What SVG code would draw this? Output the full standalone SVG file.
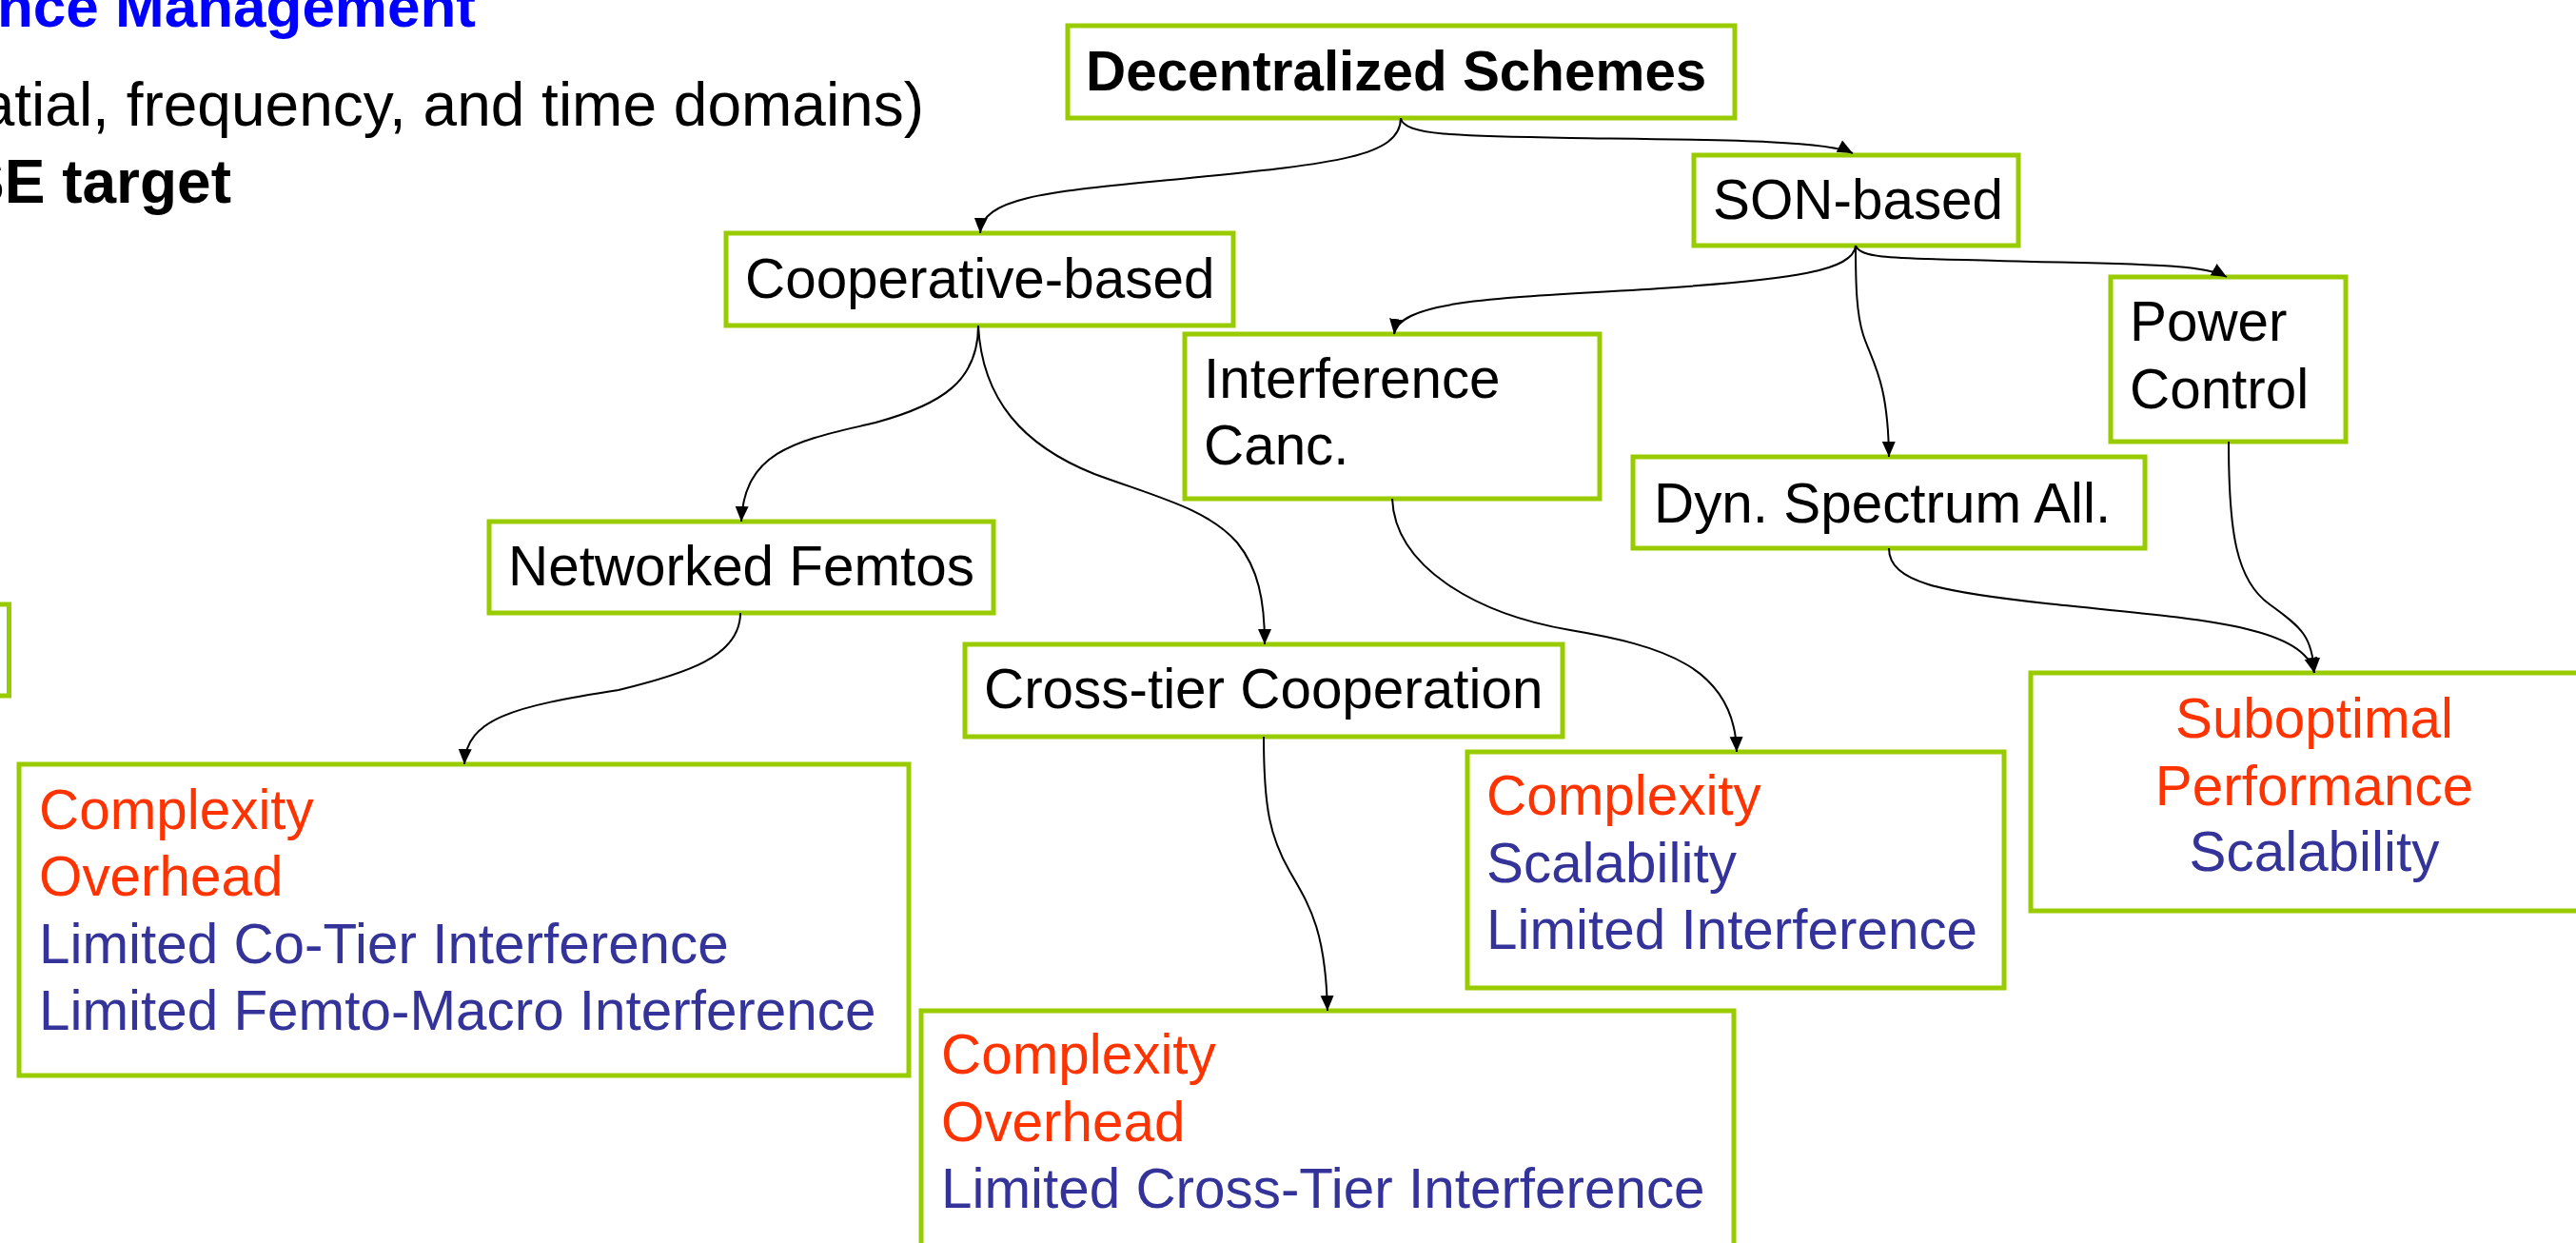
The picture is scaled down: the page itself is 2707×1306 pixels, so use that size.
<svg xmlns="http://www.w3.org/2000/svg" width="2707" height="1306" viewBox="0 0 2707 1306">
<defs>
<style>
text { font-family: "Liberation Sans", Arial, sans-serif; font-size: 58.4px; fill: #000; }
.b { font-weight: bold; }
.r { fill: #FF3300; }
.u { fill: #333399; }
.c { text-anchor: middle; }
.box { fill: #fff; stroke: #99CC00; stroke-width: 5; }
.edge { fill: none; stroke: #000; stroke-width: 2; marker-end: url(#arr); }
</style>
<marker id="arr" markerUnits="userSpaceOnUse" viewBox="0 0 16 16" markerWidth="16" markerHeight="16" refX="16" refY="8" orient="auto">
<path d="M0,1 L16,8 L0,15 z" fill="#000"/>
</marker>
</defs>
<rect x="0" y="0" width="2707" height="1306" fill="#fff"/>

<g id="slide-text">
<text class="b" x="500" y="28" style="font-size:62px;fill:#0000FF;text-anchor:end">nce Management</text>
<text x="971" y="132" style="font-size:64px;text-anchor:end">atial, frequency, and time domains)</text>
<text class="b" x="243" y="213" style="font-size:64px;text-anchor:end">SE target</text>
</g>

<g id="node-left-partial"><rect class="box" x="-200" y="635" width="209.5" height="96"/></g>

<g id="node-decentralized"><rect class="box" x="1122" y="27" width="701" height="97"/><text class="b" x="1141" y="95">Decentralized Schemes</text></g>
<g id="node-son"><rect class="box" x="1780" y="163" width="341" height="95"/><text x="1800" y="230">SON-based</text></g>
<g id="node-cooperative"><rect class="box" x="763" y="245" width="533" height="97"/><text x="783" y="313">Cooperative-based</text></g>
<g id="node-interference"><rect class="box" x="1245" y="351" width="436" height="173"/><text x="1265" y="418">Interference</text><text x="1265" y="488">Canc.</text></g>
<g id="node-power"><rect class="box" x="2218" y="291" width="247" height="173"/><text x="2238" y="358">Power</text><text x="2238" y="429">Control</text></g>
<g id="node-dyn"><rect class="box" x="1716" y="480" width="538" height="96"/><text x="1738" y="549">Dyn. Spectrum All.</text></g>
<g id="node-networked"><rect class="box" x="514" y="548" width="530" height="96"/><text x="534" y="615">Networked Femtos</text></g>
<g id="node-crosstier"><rect class="box" x="1014" y="677" width="628" height="97"/><text x="1034" y="744">Cross-tier Cooperation</text></g>

<g id="node-issues-networked"><rect class="box" x="20" y="803" width="935" height="327"/>
<text class="r" x="41" y="871">Complexity</text>
<text class="r" x="41" y="941">Overhead</text>
<text class="u" x="41" y="1012">Limited Co-Tier Interference</text>
<text class="u" x="41" y="1082">Limited Femto-Macro Interference</text></g>

<g id="node-issues-crosstier"><rect class="box" x="968" y="1062" width="854" height="300"/>
<text class="r" x="989" y="1128">Complexity</text>
<text class="r" x="989" y="1199">Overhead</text>
<text class="u" x="989" y="1269">Limited Cross-Tier Interference</text></g>

<g id="node-issues-interference"><rect class="box" x="1542" y="790" width="564" height="248"/>
<text class="r" x="1562" y="856">Complexity</text>
<text class="u" x="1562" y="927">Scalability</text>
<text class="u" x="1562" y="997">Limited Interference</text></g>

<g id="node-issues-son"><rect class="box" x="2134" y="707" width="596" height="250"/>
<text class="r c" x="2432" y="775">Suboptimal</text>
<text class="r c" x="2432" y="846">Performance</text>
<text class="u c" x="2432" y="915">Scalability</text></g>

<g id="connectors">
<path class="edge" d="M1472,124 C1472,165 1400,172 1250,187 C1110,201 1032,205 1030,245"/>
<path class="edge" d="M1472,124 C1474,142 1530,143 1650,145 C1800,147 1920,147 1947,161"/>
<path class="edge" d="M1950,258 C1948,285 1880,293 1760,302 C1600,313 1470,312 1465,351"/>
<path class="edge" d="M1950,258 C1950,300 1951,330 1958,352 C1968,382 1984,400 1985,480"/>
<path class="edge" d="M1950,258 C1955,272 1990,271 2100,274 C2250,278 2315,277 2340,291"/>
<path class="edge" d="M1028,342 C1028,400 990,425 920,444 C845,462 782,470 779,548"/>
<path class="edge" d="M1028,342 C1032,420 1075,468 1150,498 C1215,522 1270,535 1300,570 C1322,597 1329,630 1329,677"/>
<path class="edge" d="M778,644 C778,690 720,708 650,725 C540,742 490,755 488,803"/>
<path class="edge" d="M1463,524 C1466,595 1550,645 1650,662 C1745,678 1823,700 1825,790"/>
<path class="edge" d="M1328,774 C1328,850 1335,880 1355,915 C1375,950 1393,975 1395,1062"/>
<path class="edge" d="M1985,576 C1985,612 2040,622 2150,634 C2300,650 2420,655 2432,707"/>
<path class="edge" d="M2342,464 C2342,560 2350,610 2385,635 C2420,660 2430,670 2432,707"/>
</g>
</svg>
